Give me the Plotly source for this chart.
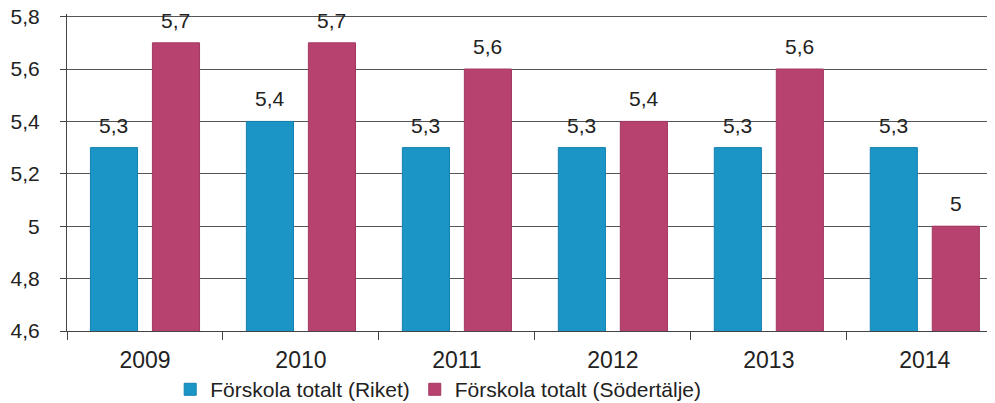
import plotly.graph_objects as go

years = ["2009", "2010", "2011", "2012", "2013", "2014"]
riket = [5.3, 5.4, 5.3, 5.3, 5.3, 5.3]
sodertalje = [5.7, 5.7, 5.6, 5.4, 5.6, 5.0]
y_ticks = [4.6, 4.8, 5.0, 5.2, 5.4, 5.6, 5.8]


def fmt(v):
    # Swedish decimal comma, no trailing zero
    return f"{v:g}".replace(".", ",")


fig = go.Figure()
fig.add_trace(go.Bar(
    x=years, y=riket, name="Förskola totalt (Riket)",
    marker=dict(color="#1b95c6", line=dict(color="#1580b0", width=1)),
))
fig.add_trace(go.Bar(
    x=years, y=sodertalje, name="Förskola totalt (Södertälje)",
    marker=dict(color="#b8426f", line=dict(color="#a23862", width=1)),
))

# value labels sit a bit higher above the bars than plotly's own outside text
for vals, dx in [(riket, -31), (sodertalje, 31)]:
    for i, v in enumerate(vals):
        fig.add_annotation(x=i, y=v, text=fmt(v), showarrow=False,
                           xshift=dx, yshift=9, yanchor="bottom",
                           font=dict(size=21, color="#222222"))

# page body has an 8px default margin, so the figure is sized/offset for it
fig.update_layout(
    width=987, height=395,
    barmode="group", bargap=0.205, bargroupgap=0.24,
    plot_bgcolor="white", paper_bgcolor="white",
    font=dict(family="Liberation Sans, Arial, sans-serif", size=22, color="#222222"),
    margin=dict(l=59, r=0, t=6, b=72, autoexpand=False),
    showlegend=True,
    legend=dict(orientation="h", x=0.40, xanchor="center", y=-0.185, yanchor="middle",
                font=dict(size=21), itemwidth=30, traceorder="normal"),
    xaxis=dict(type="category", range=[-0.5, 5.45], showline=True,
               linecolor="#444444", linewidth=1,
               ticks="outside", tickson="boundaries", ticklen=8, tickcolor="#444444",
               showgrid=False, automargin=False, ticklabelstandoff=8,
               tickfont=dict(size=23)),
    yaxis=dict(range=[4.6, 5.81], tickvals=y_ticks, ticktext=[fmt(v) for v in y_ticks],
               showline=True, linecolor="#444444", linewidth=1, ticks="outside",
               ticklen=6, tickcolor="#444444", gridcolor="#555555", gridwidth=1,
               zeroline=False, automargin=False, ticklabelstandoff=16,
               ticklabeloverflow="allow", tickfont=dict(size=21)),
)

fig.write_html("out.html")
